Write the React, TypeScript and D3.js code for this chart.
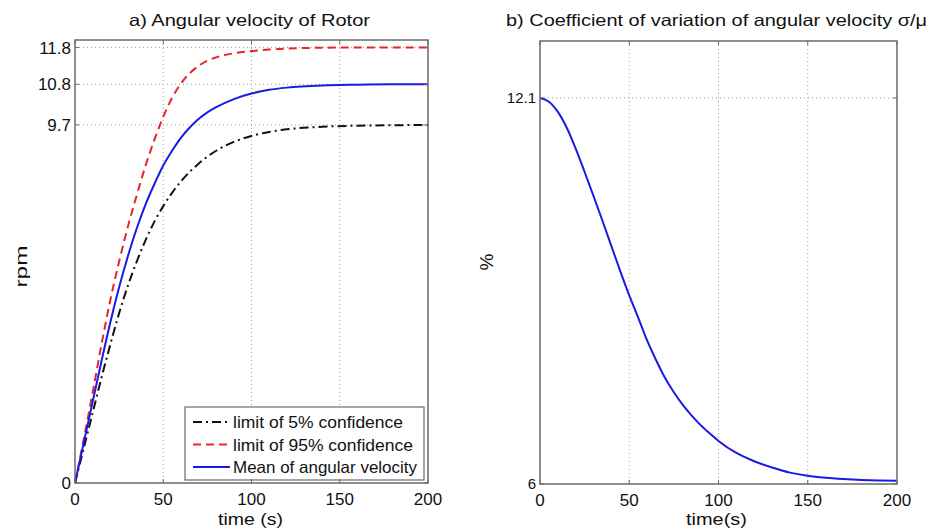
import React from "react";
import * as d3 from "d3";

const timeA = [0, 5, 10, 15, 20, 25, 30, 35, 40, 45, 50, 55, 60, 65, 70, 75, 80, 90, 100, 110, 120, 140, 160, 180, 200];
const upper95 = [0, 1.2, 2.45, 3.75, 4.95, 6.0, 6.95, 7.8, 8.6, 9.3, 9.92, 10.43, 10.82, 11.1, 11.3, 11.44, 11.53, 11.64, 11.7, 11.74, 11.77, 11.79, 11.8, 11.8, 11.8];
const meanVel = [0, 1.1, 2.2, 3.3, 4.35, 5.3, 6.15, 6.9, 7.55, 8.1, 8.6, 9.0, 9.35, 9.63, 9.86, 10.04, 10.18, 10.4, 10.55, 10.65, 10.71, 10.77, 10.79, 10.8, 10.8];
const lower5 = [0, 0.95, 1.9, 2.85, 3.75, 4.6, 5.35, 6.0, 6.58, 7.08, 7.5, 7.86, 8.17, 8.43, 8.65, 8.84, 9.0, 9.24, 9.4, 9.51, 9.58, 9.65, 9.68, 9.69, 9.7];

const timeB = [0, 5, 10, 15, 20, 25, 30, 35, 40, 45, 50, 55, 60, 65, 70, 75, 80, 85, 90, 95, 100, 110, 120, 130, 140, 150, 160, 170, 180, 190, 200];
const cvValues = [12.1, 12.04, 11.88, 11.63, 11.3, 10.93, 10.55, 10.16, 9.76, 9.36, 8.98, 8.63, 8.27, 7.96, 7.68, 7.45, 7.25, 7.08, 6.93, 6.8, 6.68, 6.49, 6.36, 6.26, 6.18, 6.13, 6.1, 6.08, 6.065, 6.055, 6.05];

const xTicks = [0, 50, 100, 150, 200];
const yTicksA = [0, 9.7, 10.8, 11.8];
const yTicksB = [6, 12.1];
const legendLabels = ["limit of 5% confidence", "limit of 95% confidence", "Mean of angular velocity"];

const FONT = "'Liberation Sans', Arial, sans-serif";
const AXIS = "#6a6a6a";
const GRID = "#9a9a9a";
const TXT = "#111";

function Panel(props: {
  left: number; right: number; top: number; bottom: number;
  yDomain: [number, number]; yTicks: number[];
  children: (x: d3.ScaleLinear<number, number>, y: d3.ScaleLinear<number, number>) => React.ReactNode;
  title: string; titleX: number; titleLen: number;
  xLabel: string; xLabelX: number; xLabelLen: number;
  yLabel: string; yLabelX: number; yLabelY: number; yLabelSize: number; yLabelLen?: number;
  tickSize: number;
}) {
  const x = d3.scaleLinear().domain([0, 200]).range([props.left, props.right]);
  const y = d3.scaleLinear().domain(props.yDomain).range([props.bottom, props.top]);
  return (
    <g>
      {xTicks.slice(1, -1).map((t) => (
        <line key={"gx" + t} x1={x(t)} x2={x(t)} y1={props.top} y2={props.bottom} stroke={GRID} strokeWidth={1} strokeDasharray="1,3" />
      ))}
      {props.yTicks.filter((t) => t !== props.yDomain[0]).map((t) => (
        <line key={"gy" + t} x1={props.left} x2={props.right} y1={y(t)} y2={y(t)} stroke={GRID} strokeWidth={1} strokeDasharray="1,3" />
      ))}
      {props.children(x, y)}
      <rect x={props.left} y={props.top} width={props.right - props.left} height={props.bottom - props.top} fill="none" stroke={AXIS} strokeWidth={1.5} />
      {xTicks.map((t) => (
        <g key={"tx" + t}>
          <line x1={x(t)} x2={x(t)} y1={props.bottom} y2={props.bottom - 4} stroke={AXIS} />
          <line x1={x(t)} x2={x(t)} y1={props.top} y2={props.top + 4} stroke={AXIS} />
          <text x={x(t)} y={props.bottom + 22} textAnchor="middle" fontSize={17} fontFamily={FONT} fill={TXT}>{t}</text>
        </g>
      ))}
      {props.yTicks.map((t) => (
        <g key={"ty" + t}>
          <line x1={props.left} x2={props.left + 4} y1={y(t)} y2={y(t)} stroke={AXIS} />
          <line x1={props.right} x2={props.right - 4} y1={y(t)} y2={y(t)} stroke={AXIS} />
          <text x={props.left - 4} y={y(t) + props.tickSize * 0.36} textAnchor="end" fontSize={props.tickSize} fontFamily={FONT} fill={TXT}>{t}</text>
        </g>
      ))}
      <text x={props.titleX} y={26} textAnchor="middle" fontSize={16.5} fontFamily={FONT} fill={TXT}
        textLength={props.titleLen} lengthAdjust="spacingAndGlyphs">{props.title}</text>
      <text x={props.xLabelX} y={525} textAnchor="middle" fontSize={17} fontFamily={FONT} fill={TXT}
        textLength={props.xLabelLen} lengthAdjust="spacingAndGlyphs">{props.xLabel}</text>
      <text transform={`translate(${props.yLabelX},${props.yLabelY}) rotate(-90)`} textAnchor="middle" fontSize={props.yLabelSize} fontFamily={FONT} fill={TXT}
        textLength={props.yLabelLen} lengthAdjust="spacingAndGlyphs">{props.yLabel}</text>
    </g>
  );
}

export default function App() {
  const seriesA = [
    { values: lower5, color: "#111111", dash: "9,4,2,4" },
    { values: upper95, color: "#e3262c", dash: "8,5" },
    { values: meanVel, color: "#1a1ae6", dash: "" },
  ];
  const legendLens = [170, 180, 184];
  return (
    <svg width={931} height={531} style={{ position: "absolute", left: 0, top: 0, background: "#fff" }}>
      <rect width={931} height={531} fill="#fff" />
      <Panel left={75} right={428} top={40} bottom={483} yDomain={[0, 12]} yTicks={yTicksA}
        title="a) Angular velocity of Rotor" titleX={249.5} titleLen={241}
        xLabel="time (s)" xLabelX={250.5} xLabelLen={65}
        yLabel="rpm" yLabelX={27} yLabelY={266.5} yLabelSize={17} yLabelLen={42} tickSize={17}>
        {(x, y) => {
          const line = d3.line<number>().x((_, i) => x(timeA[i])).y((d) => y(d)).curve(d3.curveMonotoneX);
          return (
            <g>
              {seriesA.map((s, i) => (
                <path key={i} d={line(s.values) || ""} fill="none" stroke={s.color} strokeWidth={2} strokeDasharray={s.dash} />
              ))}
              <rect x={185} y={407} width={239} height={73} fill="#fff" stroke={AXIS} strokeWidth={1.2} />
              {seriesA.map((s, i) => (
                <g key={"lg" + i}>
                  <line x1={193} x2={230} y1={422 + i * 22.5} y2={422 + i * 22.5} stroke={s.color} strokeWidth={2} strokeDasharray={s.dash} />
                  <text x={233} y={428 + i * 22.5} fontSize={16.5} fontFamily={FONT} fill={TXT}
                    textLength={legendLens[i]} lengthAdjust="spacingAndGlyphs">{legendLabels[i]}</text>
                </g>
              ))}
            </g>
          );
        }}
      </Panel>
      <Panel left={540} right={897} top={41} bottom={484} yDomain={[6, 13]} yTicks={yTicksB}
        title="b) Coefficient of variation of angular velocity σ/μ" titleX={716.5} titleLen={421}
        xLabel="time(s)" xLabelX={716.5} xLabelLen={61}
        yLabel="%" yLabelX={493} yLabelY={262} yLabelSize={19} tickSize={15}>
        {(x, y) => {
          const line = d3.line<number>().x((_, i) => x(timeB[i])).y((d) => y(d)).curve(d3.curveMonotoneX);
          return <path d={line(cvValues) || ""} fill="none" stroke="#1a1ae6" strokeWidth={2} />;
        }}
      </Panel>
    </svg>
  );
}
